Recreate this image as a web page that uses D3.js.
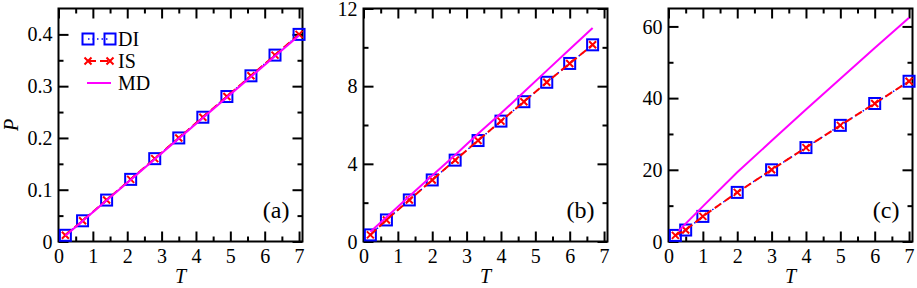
<!DOCTYPE html>
<html lang="en">
<head>
<meta charset="utf-8" />
<script src="https://d3js.org/d3.v7.min.js"></script>
<style>
  body { margin: 0; background: #fff; }
  svg { display: block; }
  svg text { font-family: "Liberation Serif", "Times New Roman", serif; }
</style>
</head>
<body>
<script>
    const w = 917;
    const h = 288;

    // panel (a)
    const tA = [0.2, 0.7, 1.4, 2.1, 2.8, 3.5, 4.2, 4.9, 5.6, 6.3, 7.0];
    const diA = [0.012, 0.04, 0.08, 0.12, 0.16, 0.20, 0.24, 0.28, 0.32, 0.36, 0.40];
    const isA = [0.012, 0.04, 0.08, 0.12, 0.16, 0.20, 0.24, 0.28, 0.32, 0.36, 0.40];
    const mdTA = [0.2, 7.0];
    const mdA = [0.011, 0.398];

    // panel (b)
    const tB = [0.2, 0.667, 1.333, 2, 2.667, 3.333, 4, 4.667, 5.333, 6, 6.667];
    const diB = [0.34, 1.11, 2.14, 3.17, 4.19, 5.2, 6.2, 7.2, 8.2, 9.17, 10.13];
    const isB = [0.34, 1.11, 2.14, 3.17, 4.19, 5.2, 6.2, 7.2, 8.2, 9.17, 10.13];
    const mdTB = [0.2, 0.667, 1.333, 2, 2.667, 3.333, 4, 4.667, 5.333, 6, 6.667];
    const mdB = [0.5, 1.25, 2.33, 3.4, 4.45, 5.55, 6.6, 7.7, 8.8, 9.9, 11.0];

    // panel (c)
    const tC = [0.2, 0.5, 1, 2, 3, 4, 5, 6, 7];
    const diC = [1.7, 3.2, 7.0, 13.7, 20.0, 26.2, 32.4, 38.5, 44.7];
    const isC = [1.7, 3.2, 7.0, 13.7, 20.0, 26.2, 32.4, 38.5, 44.7];
    const mdTC = [0.3, 0.5, 1, 2, 3, 4, 5, 6, 7];
    const mdC = [3.0, 5.0, 9.8, 19.3, 28.1, 36.8, 45.4, 54.0, 62.4];

    const xTicks = [0, 1, 2, 3, 4, 5, 6, 7];
    const xMinor = [0.5, 1.5, 2.5, 3.5, 4.5, 5.5, 6.5];

    const panels = [
        { label: "(a)", left: 58.5, t: tA, di: diA, is: isA, mdT: mdTA, md: mdA,
          yMax: 0.45, yTicks: [0, 0.1, 0.2, 0.3, 0.4], yMinor: [0.05, 0.15, 0.25, 0.35],
          fmt: d => d === 0 ? "0" : d3.format(".1f")(d), legend: true, yTitle: "P" },
        { label: "(b)", left: 363.5, t: tB, di: diB, is: isB, mdT: mdTB, md: mdB,
          yMax: 12, yTicks: [0, 4, 8, 12], yMinor: [2, 6, 10],
          fmt: d => String(d), legend: false },
        { label: "(c)", left: 668.5, t: tC, di: diC, is: isC, mdT: mdTC, md: mdC,
          yMax: 65, yTicks: [0, 20, 40, 60], yMinor: [10, 30, 50],
          fmt: d => String(d), legend: false }
    ];

    const pw = 244;
    const yTop = 8.5;
    const yBottom = 241.5;
    const major = 10;
    const minor = 5;
    const serif = '"Liberation Serif", "Times New Roman", serif';

    const svg = d3.select("body")
        .append("svg")
        .attr("width", w)
        .attr("height", h);

    panels.forEach(p => {
        const xScale = d3.scaleLinear().domain([0, 7.1]).range([p.left, p.left + pw]);
        const yScale = d3.scaleLinear().domain([0, p.yMax]).range([yBottom, yTop]);

        const g = svg.append("g");

        // ticks on all four sides, pointing in
        const addAxis = (axis, tr, labels) => {
            const a = g.append("g").attr("transform", tr).call(axis)
                .attr("font-family", serif)
                .attr("font-size", 20);
            a.select(".domain").remove();
            a.selectAll(".tick line").attr("stroke", "#000").attr("stroke-width", 2);
            a.selectAll("text").attr("fill", "#000");
            if (!labels) a.selectAll("text").remove();
            return a;
        };

        const xb = addAxis(d3.axisBottom(xScale).tickValues(xTicks).tickSize(-major).tickPadding(0).tickFormat(d3.format("d")),
            "translate(0," + yBottom + ")", true);
        xb.selectAll("text").attr("y", 21).attr("dy", 0);
        addAxis(d3.axisBottom(xScale).tickValues(xMinor).tickSize(-minor).tickFormat(""), "translate(0," + yBottom + ")", false);
        addAxis(d3.axisTop(xScale).tickValues(xTicks).tickSize(-major).tickFormat(""), "translate(0," + yTop + ")", false);
        addAxis(d3.axisTop(xScale).tickValues(xMinor).tickSize(-minor).tickFormat(""), "translate(0," + yTop + ")", false);

        const yl = addAxis(d3.axisLeft(yScale).tickValues(p.yTicks).tickSize(-major).tickPadding(0).tickFormat(p.fmt),
            "translate(" + p.left + ",0)", true);
        yl.selectAll("text").attr("x", -6).attr("dy", "0.33em");
        addAxis(d3.axisLeft(yScale).tickValues(p.yMinor).tickSize(-minor).tickFormat(""), "translate(" + p.left + ",0)", false);
        addAxis(d3.axisRight(yScale).tickValues(p.yTicks).tickSize(-major).tickFormat(""), "translate(" + (p.left + pw) + ",0)", false);
        addAxis(d3.axisRight(yScale).tickValues(p.yMinor).tickSize(-minor).tickFormat(""), "translate(" + (p.left + pw) + ",0)", false);

        // frame
        g.append("rect")
            .attr("x", p.left)
            .attr("y", yTop)
            .attr("width", pw)
            .attr("height", yBottom - yTop)
            .attr("fill", "none")
            .attr("stroke", "#000")
            .attr("stroke-width", 2);

        const line = d3.line().x(d => xScale(d[0])).y(d => yScale(d[1]));
        const diPts = p.t.map((t, i) => [t, p.di[i]]);
        const isPts = p.t.map((t, i) => [t, p.is[i]]);
        const mdPts = p.mdT.map((t, i) => [t, p.md[i]]);

        // DI dotted blue line
        g.append("path")
            .datum(diPts)
            .attr("d", line)
            .attr("fill", "none")
            .attr("stroke", "#0000ff")
            .attr("stroke-width", 1.5)
            .attr("stroke-dasharray", "1.5,3");

        // DI squares
        g.selectAll(".sq")
            .data(diPts)
            .enter()
            .append("rect")
            .attr("class", "sq")
            .attr("x", d => xScale(d[0]) - 5.5)
            .attr("y", d => yScale(d[1]) - 5.5)
            .attr("width", 11)
            .attr("height", 11)
            .attr("fill", "none")
            .attr("stroke", "#0000ff")
            .attr("stroke-width", 2);

        // IS dashed red line
        g.append("path")
            .datum(isPts)
            .attr("d", line)
            .attr("fill", "none")
            .attr("stroke", "#ff0000")
            .attr("stroke-width", 2)
            .attr("stroke-dasharray", "8,4");

        // IS crosses
        g.selectAll(".cr")
            .data(isPts)
            .enter()
            .append("path")
            .attr("class", "cr")
            .attr("d", d => {
                const cx = xScale(d[0]), cy = yScale(d[1]), r = 3.5;
                return `M${cx - r},${cy - r}L${cx + r},${cy + r}M${cx - r},${cy + r}L${cx + r},${cy - r}`;
            })
            .attr("stroke", "#ff0000")
            .attr("stroke-width", 2);

        // MD magenta line
        g.append("path")
            .datum(mdPts)
            .attr("d", line)
            .attr("fill", "none")
            .attr("stroke", "#ff00ff")
            .attr("stroke-width", 2);

        // panel label
        g.append("text")
            .attr("x", p.left + pw - 13)
            .attr("y", yBottom - 24)
            .attr("text-anchor", "end")
            .style("font-size", "24px")
            .text(p.label);

        // x title
        g.append("text")
            .attr("x", p.left + pw / 2)
            .attr("y", 283)
            .attr("text-anchor", "middle")
            .style("font-size", "20px")
            .style("font-style", "italic")
            .text("T");

        if (p.yTitle) {
            svg.append("text")
                .attr("transform", "translate(18,125) rotate(-90)")
                .attr("text-anchor", "middle")
                .style("font-size", "20px")
                .style("font-style", "italic")
                .text(p.yTitle);
        }

        if (p.legend) {
            const lx1 = 88, lx2 = 110, tx = 117;
            const rows = [39, 61, 83];

            // DI
            g.append("line").attr("x1", lx1).attr("x2", lx2).attr("y1", rows[0]).attr("y2", rows[0])
                .attr("stroke", "#0000ff").attr("stroke-width", 1.5).attr("stroke-dasharray", "1.5,3");
            [lx1, lx2].forEach(x => g.append("rect")
                .attr("x", x - 5.5).attr("y", rows[0] - 5.5).attr("width", 11).attr("height", 11)
                .attr("fill", "none").attr("stroke", "#0000ff").attr("stroke-width", 2));

            // IS
            g.append("line").attr("x1", lx1).attr("x2", lx2).attr("y1", rows[1]).attr("y2", rows[1])
                .attr("stroke", "#ff0000").attr("stroke-width", 2).attr("stroke-dasharray", "8,4");
            [lx1, lx2].forEach(x => g.append("path")
                .attr("d", `M${x - 3.5},${rows[1] - 3.5}L${x + 3.5},${rows[1] + 3.5}M${x - 3.5},${rows[1] + 3.5}L${x + 3.5},${rows[1] - 3.5}`)
                .attr("stroke", "#ff0000").attr("stroke-width", 2));

            // MD
            g.append("line").attr("x1", lx1 - 1).attr("x2", lx2 + 1).attr("y1", rows[2]).attr("y2", rows[2])
                .attr("stroke", "#ff00ff").attr("stroke-width", 2);

            ["DI", "IS", "MD"].forEach((s, i) => g.append("text")
                .attr("x", tx + 1)
                .attr("y", rows[i] + 7)
                .style("font-size", "20px")
                .text(s));
        }
    });
</script>
</body>
</html>
